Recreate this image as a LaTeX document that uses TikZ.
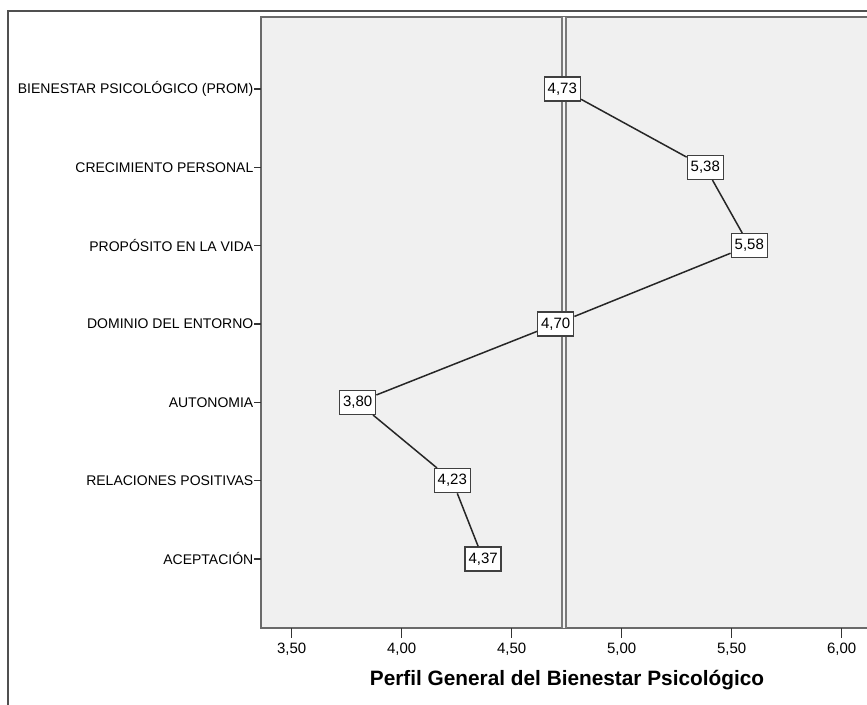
\documentclass[tikz,border=0pt]{standalone}
\usepackage{fontspec}
\setmainfont{Liberation Sans}
\definecolor{plotbg}{HTML}{F0F0F0}
\definecolor{frameg}{HTML}{505050}
\definecolor{plotframe}{HTML}{6A6A6A}
\definecolor{meanline}{HTML}{7A7A7A}
\begin{document}
\begin{tikzpicture}[x=1pt,y=-1pt,
  catlabel/.style={anchor=east,inner sep=0pt,font=\fontsize{14}{15}\selectfont},
  ticklabel/.style={inner sep=0pt,font=\fontsize{15}{16}\selectfont},
  valbox/.style={draw=black!75,line width=1.4pt,fill=white,inner sep=0pt,minimum width=36pt,minimum height=24pt,font=\fontsize{15}{16}\selectfont},
  link/.style={black!85,line width=1.5pt},
  tickmark/.style={black!80,line width=1.2pt}]
\useasboundingbox (0,0) rectangle (867,704);
\clip (0,0) rectangle (867,704);
% outer frame
\draw[frameg,line width=1.3pt] (8,11) rectangle (900,740);
% plot area
\fill[plotbg] (261,17) rectangle (900,628);
\draw[plotframe,line width=1.8pt] (900,17) -- (261,17) -- (261,628) -- (900,628);
% mean double line (4.738)
\draw[meanline,line width=6pt] (564,17) -- (564,628);
\draw[plotbg!70!white,line width=1.8pt] (564,17) -- (564,628);
% x ticks
\foreach \v/\t [count=\i] in {3.5/{3,50},4/{4,00},4.5/{4,50},5/{5,00},5.5/{5,50},6/{6,00}}{
  \pgfmathsetmacro{\xx}{291.7+(\v-3.5)*220}
  \draw[tickmark] (\xx,628) -- (\xx,638);
  \node[ticklabel] (xt\i) at (\xx,649) {\t};
}
% y ticks and category labels
\foreach \lab [count=\i] in {BIENESTAR PSICOLÓGICO (PROM),CRECIMIENTO PERSONAL,PROPÓSITO EN LA VIDA,DOMINIO DEL ENTORNO,AUTONOMIA,RELACIONES POSITIVAS,ACEPTACIÓN}{
  \pgfmathsetmacro{\yy}{89+(\i-1)*78.33}
  \draw[tickmark] (254,\yy) -- (261,\yy);
  \node[catlabel] (c\i) at (253.5,\yy) {\lab};
}
% value boxes
\foreach \v/\t [count=\i] in {4.73/{4,73},5.38/{5,38},5.58/{5,58},4.70/{4,70},3.80/{3,80},4.23/{4,23},4.37/{4,37}}{
  \pgfmathsetmacro{\xx}{291.7+(\v-3.5)*220}
  \pgfmathsetmacro{\yy}{89+(\i-1)*78.33}
  \node[valbox] (b\i) at (\xx,\yy) {\t};
}
\draw[link] (b1) -- (b2);
\draw[link] (b2) -- (b3);
\draw[link] (b3) -- (b4);
\draw[link] (b4) -- (b5);
\draw[link] (b5) -- (b6);
\draw[link] (b6) -- (b7);
% axis title
\node[inner sep=0pt,font=\fontsize{20.8}{22}\selectfont\bfseries] (title) at (567,680) {Perfil General del Bienestar Psicológico};
\end{tikzpicture}
\end{document}
